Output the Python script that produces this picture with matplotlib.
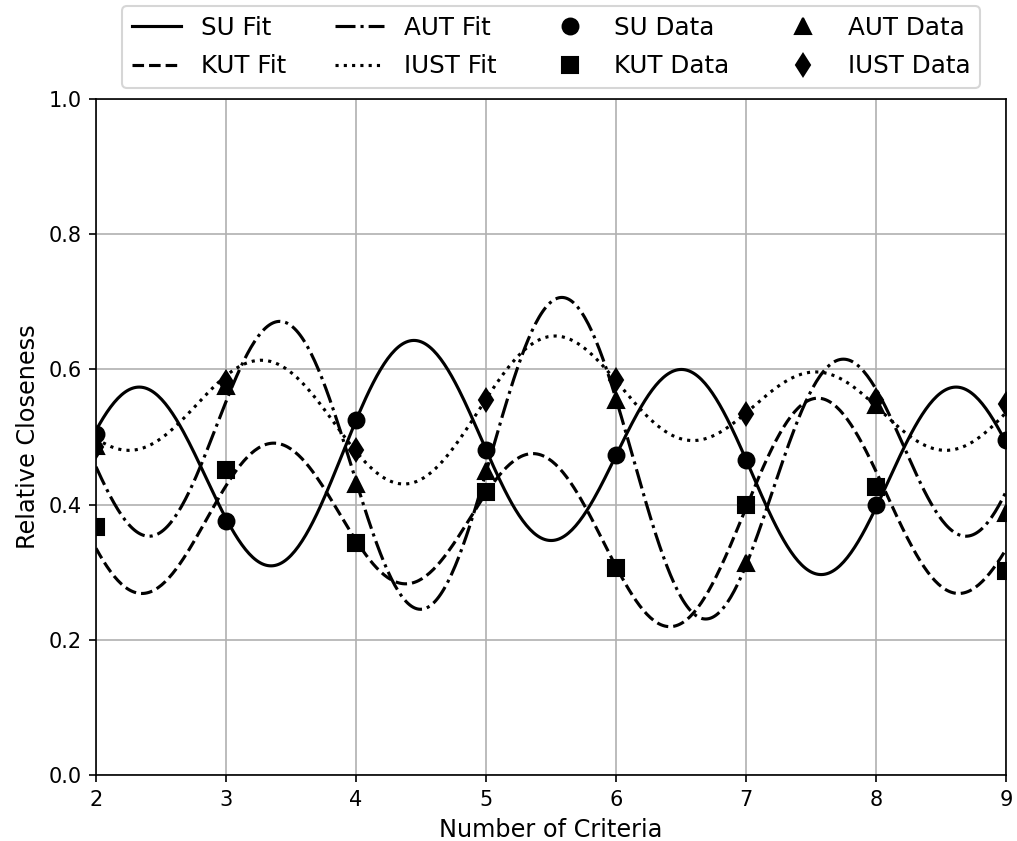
#!/usr/bin/env python3
"""
Relative closeness vs number of criteria, with trigonometric least-squares fits.
"""

import matplotlib
matplotlib.use("Agg")
import matplotlib.pyplot as plt
import numpy as np

plt.rcParams["font.family"] = "DejaVu Sans"
plt.rcParams["font.size"] = 10

criteria = [2, 3, 4, 5, 6, 7, 8, 9]
su = [0.505, 0.376, 0.525, 0.481, 0.473, 0.466, 0.399, 0.496]
kut = [0.367, 0.451, 0.343, 0.419, 0.306, 0.399, 0.426, 0.302]
aut = [0.487, 0.575, 0.431, 0.450, 0.554, 0.314, 0.548, 0.388]
iust = [0.485, 0.581, 0.480, 0.555, 0.584, 0.534, 0.555, 0.549]

names = ["SU", "KUT", "AUT", "IUST"]
series = [su, kut, aut, iust]
line_styles = ["-", "--", "-.", ":"]
markers = ["o", "s", "^", "d"]


def design(x, n_harm=3, w=1.0):
    cols = [np.ones_like(x)]
    for k in range(1, n_harm + 1):
        cols.append(np.cos(k * w * x))
        cols.append(np.sin(k * w * x))
    return np.column_stack(cols)


def fourier_fit(x, y, x_new):
    coef, *_ = np.linalg.lstsq(design(x), y, rcond=None)
    return design(x_new) @ coef


def main():
    x = np.array(criteria, dtype=float)
    x_fine = np.linspace(x.min(), x.max(), 500)

    fig = plt.figure(figsize=(6.78, 5.607), dpi=150)
    ax = fig.add_axes([0.0944, 0.0785, 0.8948, 0.8038])

    fit_handles = []
    data_handles = []
    for name, y, ls, mk in zip(names, series, line_styles, markers):
        y_fit = fourier_fit(x, np.array(y), x_fine)
        (h1,) = ax.plot(x_fine, y_fit, ls, color="black", lw=1.5, label=f"{name} Fit")
        (h2,) = ax.plot(x, y, mk, color="black", ms=7.6, linestyle="none",
                        zorder=3, label=f"{name} Data")
        fit_handles.append(h1)
        data_handles.append(h2)

    ax.set_xlim(2, 9)
    ax.set_ylim(0, 1.0)
    ax.set_xlabel("Number of Criteria", fontsize=11.5)
    ax.set_ylabel("Relative Closeness", fontsize=11.5)
    ax.grid(True)

    ax.legend(handles=fit_handles + data_handles, ncol=4, loc="lower center",
              bbox_to_anchor=(0.5, 0.998), fontsize=11.8, labelspacing=0.58)

    fig.savefig("out.png", dpi=150)


if __name__ == "__main__":
    main()
